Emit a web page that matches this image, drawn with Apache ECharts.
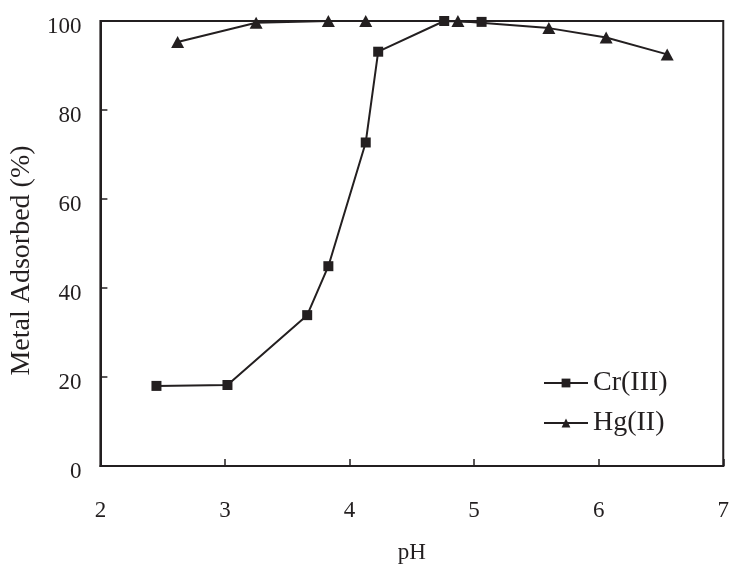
<!DOCTYPE html>
<html>
<head>
<meta charset="utf-8">
<script src="https://cdn.jsdelivr.net/npm/echarts@6/dist/echarts.min.js"></script>
<style>html,body{margin:0;padding:0;background:#fff;}#c{width:732px;height:569px;}</style>
</head>
<body>
<div id="c"></div>
<script>
var crPH  = [2.45, 3.02, 3.66, 3.83, 4.13, 4.23, 4.76, 5.06];
var crVal = [18.0, 18.2, 33.9, 44.9, 72.7, 93.1, 100, 99.8];
var hgPH  = [2.62, 3.25, 3.83, 4.13, 4.87, 5.60, 6.06, 6.55];
var hgVal = [95.3, 99.6, 100, 100, 100, 98.4, 96.3, 92.5];
var xTicks = [2, 3, 4, 5, 6, 7];
var yTicks = [0, 20, 40, 60, 80, 100];

function pairs(xs, ys){ return xs.map(function(x,i){ return [x, ys[i]]; }); }

var ink = '#231f20';
var font = '"Liberation Serif", "Times New Roman", serif';
var chart = echarts.init(document.getElementById('c'), null, {renderer:'canvas'});
chart.setOption({
  animation: false,
  backgroundColor: '#fff',
  textStyle: {fontFamily: font, color: ink},
  grid: {left: 99, right: 3, top: 21, bottom: 94, show: true, borderColor: ink, borderWidth: 2, backgroundColor: 'transparent'},
  legend: {
    orient: 'vertical', left: 538, top: 364, itemWidth: 44, itemHeight: 11, itemGap: 12,
    textStyle: {fontFamily: font, fontSize: 28, color: ink},
    data: ['Cr(III)', 'Hg(II)']
  },
  xAxis: {
    type: 'value', min: xTicks[0], max: xTicks[xTicks.length-1], interval: 1,
    name: 'pH', nameLocation: 'middle', nameGap: 75,
    nameTextStyle: {fontFamily: font, fontSize: 23, color: ink},
    axisLine: {lineStyle: {color: ink, width: 2}},
    axisTick: {inside: true, length: 7, lineStyle: {color: ink, width: 1.5}},
    axisLabel: {fontFamily: font, fontSize: 23, color: ink, margin: 33, showMaxLabel: true},
    splitLine: {show: false}
  },
  yAxis: {
    type: 'value', min: yTicks[0], max: yTicks[yTicks.length-1], interval: 20,
    name: 'Metal Adsorbed (%)', nameLocation: 'middle', nameGap: 64,
    nameTextStyle: {fontFamily: font, fontSize: 28, color: ink, padding: [0,0,0,-34]},
    axisLine: {show: true, lineStyle: {color: ink, width: 2}},
    axisTick: {show: true, inside: true, length: 7, lineStyle: {color: ink, width: 1.5}},
    axisLabel: {
      margin: 19, formatter: '{v|{value}}',
      rich: {v: {fontFamily: font, fontSize: 23, color: ink, padding: [11,0,0,0]}}
    },
    splitLine: {show: false}
  },
  series: [
    {
      name: 'Cr(III)', type: 'line', data: pairs(crPH, crVal), clip: false,
      symbol: 'rect', symbolSize: 10,
      lineStyle: {color: ink, width: 2}, itemStyle: {color: ink}
    },
    {
      name: 'Hg(II)', type: 'line', data: pairs(hgPH, hgVal), clip: false,
      symbol: 'triangle', symbolSize: [13, 12],
      lineStyle: {color: ink, width: 2}, itemStyle: {color: ink}
    }
  ]
});
</script>
</body>
</html>
